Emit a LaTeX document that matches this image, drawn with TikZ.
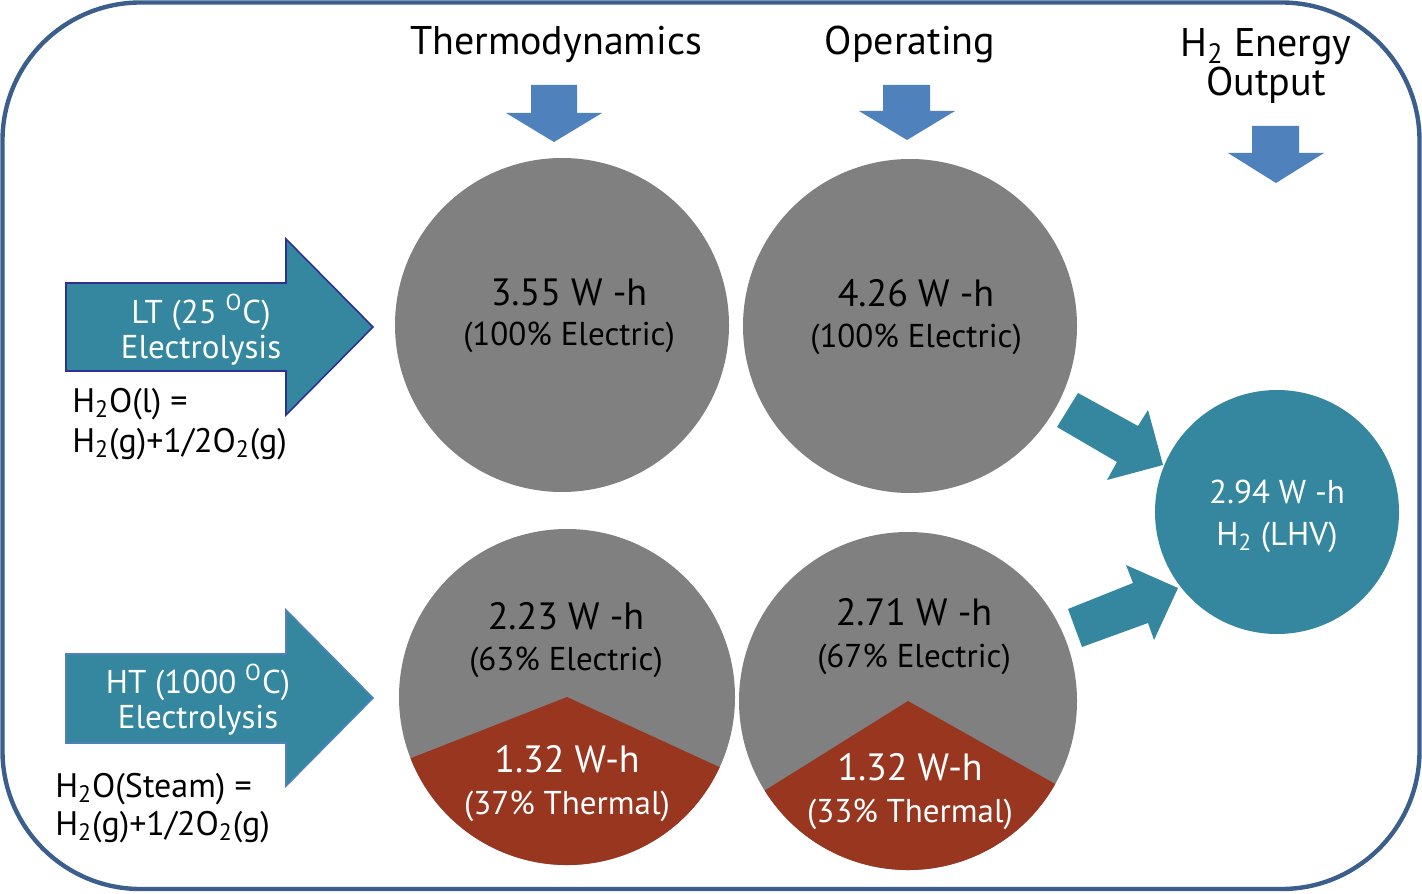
\documentclass[tikz,border=0pt]{standalone}
\usepackage{fontspec}
\setmainfont{PT Sans}
\definecolor{frameblue}{RGB}{59,94,140}
\definecolor{piegray}{RGB}{128,128,128}
\definecolor{piered}{RGB}{153,54,32}
\definecolor{tealc}{RGB}{52,135,158}
\definecolor{arrowblue}{RGB}{79,129,189}
\definecolor{navy}{RGB}{46,49,146}
\tikzset{
  head/.style={font=\fontsize{20}{21}\selectfont, text=black, anchor=base, inner sep=0pt},
  bigtxt/.style={font=\fontsize{19}{20}\selectfont, anchor=base, inner sep=0pt},
  smalltxt/.style={font=\fontsize{16.5}{18}\selectfont, anchor=base, inner sep=0pt},
  eqtxt/.style={font=\fontsize{17}{18}\selectfont, text=black, anchor=base west, inner sep=0pt},
  downarrow/.style={fill=arrowblue},
  tealarrow/.style={fill=tealc},
}
\begin{document}
\begin{tikzpicture}[x=0.5pt,y=-0.5pt]
\useasboundingbox (0,0) rectangle (1422,893);
% frame
\draw[frameblue, line width=2.2pt, rounded corners=69pt] (2.5,2.5) rectangle (1419.5,889);
% top headings
\node[head] (thermo) at (556,55) {Thermodynamics};
\node[head] (oper) at (910,55) {Operating};
\node[head] (h2e) at (1266,57) {H\textsubscript{2} Energy};
\node[head] (outp) at (1266,96) {Output};
% down arrows
\fill[downarrow] (531,85) -- (577,85) -- (577,113) -- (602,113) -- (554,142) -- (506,113) -- (531,113) -- cycle;
\fill[downarrow] (883,85) -- (930,85) -- (930,111) -- (955,111) -- (907,140) -- (859,111) -- (883,111) -- cycle;
\fill[downarrow] (1252,126) -- (1299,126) -- (1299,153) -- (1324,153) -- (1276,183) -- (1228,153) -- (1252,153) -- cycle;
% circles
\coordinate (c1) at (562,325);
\coordinate (c2) at (910,326);
\coordinate (c3) at (567,697);
\coordinate (c4) at (908,701);
\coordinate (c5) at (1277,512);
\fill[piegray] (c1) circle[radius=83.5pt];
\fill[piegray] (c2) circle[radius=83.5pt];
\fill[piegray] (c3) circle[radius=84pt];
\fill[piegray] (c4) circle[radius=84.5pt];
\fill[piered] (c3) -- ++(201.4:84pt) arc[start angle=201.4, end angle=335.3, radius=84pt] -- cycle;
\fill[piered] (c4) -- ++(212:84.5pt) arc[start angle=212, end angle=330.6, radius=84.5pt] -- cycle;
\fill[tealc] (c5) circle[radius=61pt];
% teal arrows
\fill[tealarrow] (1078,393) -- (1138,426) -- (1148,410) -- (1163,465) -- (1107,480) -- (1117,462) -- (1057,427) -- cycle;
\fill[tealarrow] (1068,609) -- (1133,583) -- (1126,565) -- (1178,588) -- (1154,640) -- (1148,623) -- (1082,647) -- cycle;
% left arrows
\filldraw[fill=tealc, draw=navy, line width=0.8pt] (66,283) -- (286,283) -- (286,239) -- (373,327) -- (286,415) -- (286,371) -- (66,371) -- cycle;
\filldraw[fill=tealc, draw=arrowblue, line width=0.8pt] (66,654) -- (286,654) -- (286,610) -- (373,698) -- (286,786) -- (286,743) -- (66,743) -- cycle;
% arrow texts
\node[smalltxt, text=white] (lt1) at (201,323) {LT (25 \textsuperscript{O}C)};
\node[smalltxt, text=white] (lt2) at (201,358) {Electrolysis};
\node[smalltxt, text=white] (ht1) at (198,693) {HT (1000 \textsuperscript{O}C)};
\node[smalltxt, text=white] (ht2) at (198,728) {Electrolysis};
% equations
\node[eqtxt] (eq1a) at (72,412) {H\textsubscript{2}O(l) =};
\node[eqtxt] (eq1b) at (72,452) {H\textsubscript{2}(g)+1/2O\textsubscript{2}(g)};
\node[eqtxt] (eq2a) at (55,797) {H\textsubscript{2}O(Steam) =};
\node[eqtxt] (eq2b) at (55,835) {H\textsubscript{2}(g)+1/2O\textsubscript{2}(g)};
% circle texts
\node[bigtxt, text=black] (t1a) at (569,305) {3.55 W -h};
\node[smalltxt, text=black] (t1b) at (569,345) {(100\% Electric)};
\node[bigtxt, text=black] (t2a) at (916,306) {4.26 W -h};
\node[smalltxt, text=black] (t2b) at (916,347) {(100\% Electric)};
\node[bigtxt, text=black] (t3a) at (566,629) {2.23 W -h};
\node[smalltxt, text=black] (t3b) at (566,670) {(63\% Electric)};
\node[bigtxt, text=white] (t3c) at (567,772) {1.32 W-h};
\node[smalltxt, text=white] (t3d) at (567,814) {(37\% Thermal)};
\node[bigtxt, text=black] (t4a) at (914,625) {2.71 W -h};
\node[smalltxt, text=black] (t4b) at (914,667) {(67\% Electric)};
\node[bigtxt, text=white] (t4c) at (910,780) {1.32 W-h};
\node[smalltxt, text=white] (t4d) at (910,822) {(33\% Thermal)};
\node[smalltxt, text=white] (t5a) at (1277,503) {2.94 W -h};
\node[smalltxt, text=white] (t5b) at (1277,545) {H\textsubscript{2} (LHV)};
\end{tikzpicture}
\end{document}
